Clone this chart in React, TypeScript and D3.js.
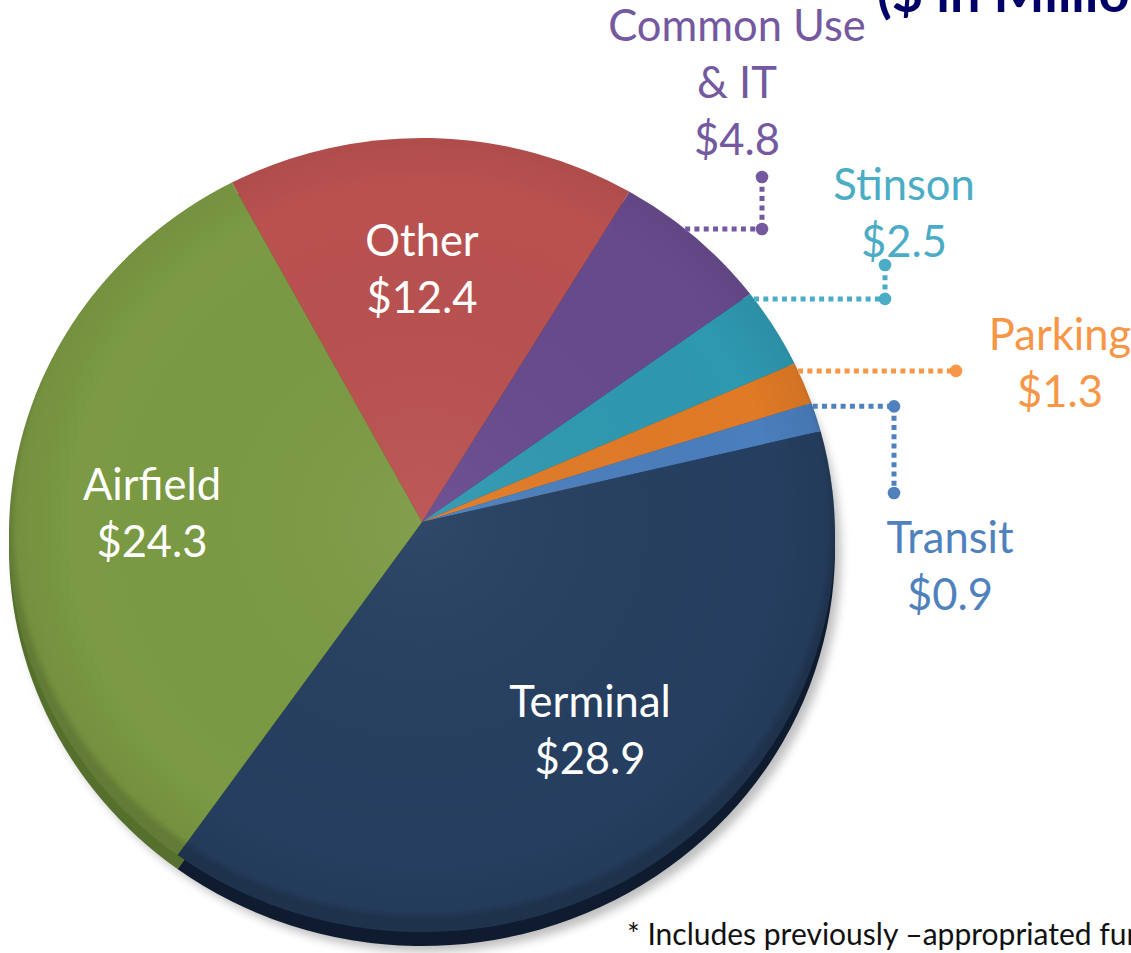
import React from "react";
import * as d3 from "d3";

// Capital budget by program ($ in millions)
const categories = ["Other", "Common Use & IT", "Stinson", "Parking", "Transit", "Terminal", "Airfield"];
const values = [12.4, 4.8, 2.5, 1.3, 0.9, 28.9, 24.3];
const labelLines = [["Other"], ["Common Use", "& IT"], ["Stinson"], ["Parking"], ["Transit"], ["Terminal"], ["Airfield"]];
const sliceColors = ["#B9514F", "#674A8C", "#2E98B0", "#E07A26", "#4A7EBC", "#263F60", "#7B9A43"];
const sideColors = ["#7a3230", "#3f2c58", "#1a6070", "#9a4f12", "#2d527e", "#0f1c30", "#55702c"];
const labelColors = ["#ffffff", "#7459A0", "#4BACC6", "#F79646", "#4F81BD", "#ffffff", "#ffffff"];

const W = 1131;
const H = 953;
const font = "Lato, 'Open Sans', sans-serif";

// pie geometry (perspective: apex sits above the ellipse centre)
const cx = 422;
const cy = 535;
const rx = 413;
const ry = 397;
const apex = { x: 422, y: 522 };
const depth = 14;
const startDeg = -28.3;

// label layout: x centre, first baseline, connector (frac along slice, elbow x, end y)
const labelLayout = [
  { x: 422, y: 256, inside: true },
  { x: 737, y: 41, inside: false, frac: 0.42, elbowX: 762, endY: 177 },
  { x: 904, y: 200, inside: false, frac: 0.075, elbowX: 885, endY: 265 },
  { x: 1060, y: 350, inside: false, frac: 0.19, elbowX: 956, endY: null },
  { x: 950, y: 553, inside: false, frac: 0.12, elbowX: 894, endY: 493 },
  { x: 590, y: 717, inside: true },
  { x: 152, y: 500, inside: true },
];
const lineStep = 57;

function rimPoint(a: number) {
  // ray from apex in direction a (d3 angle, clockwise from 12 o'clock), hit ellipse
  const u = (apex.x - cx) / rx;
  const v = (apex.y - cy) / ry;
  const s = Math.sin(a);
  const c = -Math.cos(a);
  const b = u * s + v * c;
  const t = -b + Math.sqrt(b * b - (u * u + v * v - 1));
  return { x: cx + rx * (u + t * s), y: cy + ry * (v + t * c) };
}

function slicePath(a0: number, a1: number) {
  const p0 = rimPoint(a0);
  const p1 = rimPoint(a1);
  const t0 = Math.atan2((p0.y - cy) / ry, (p0.x - cx) / rx);
  let t1 = Math.atan2((p1.y - cy) / ry, (p1.x - cx) / rx);
  if (t1 < t0) t1 += Math.PI * 2;
  const large = t1 - t0 > Math.PI ? 1 : 0;
  return `M${apex.x},${apex.y}L${p0.x},${p0.y}A${rx},${ry} 0 ${large} 1 ${p1.x},${p1.y}Z`;
}

export default function App() {
  const a0 = (startDeg * Math.PI) / 180;
  const arcs = d3.pie<number>().sort(null).startAngle(a0).endAngle(a0 + Math.PI * 2)(values);
  const money = d3.format("$.1f");

  return (
    <svg
      width={W}
      height={H}
      viewBox={`0 0 ${W} ${H}`}
      style={{ position: "absolute", left: 0, top: 0, background: "#fff" }}
    >
      <defs>
        <filter id="blur" x="-20%" y="-20%" width="140%" height="140%">
          <feGaussianBlur stdDeviation="5" />
        </filter>
        <radialGradient id="shade" cx={apex.x} cy={apex.y} r={rx} gradientUnits="userSpaceOnUse" gradientTransform={`translate(0 ${apex.y}) scale(1 ${ry / rx}) translate(0 ${-apex.y})`}>
          <stop offset="0" stopColor="#ffffff" stopOpacity={0.05} />
          <stop offset="0.85" stopColor="#000000" stopOpacity={0} />
          <stop offset="0.98" stopColor="#000000" stopOpacity={0.06} />
          <stop offset="1" stopColor="#000000" stopOpacity={0.2} />
        </radialGradient>
      </defs>

      {/* title, clipped at top */}
      <text x={877} y={12} fontFamily={font} fontWeight="bold" fontSize={54} fill="#000066">
        ($ in Millions)
      </text>

      {/* drop shadow */}
      <ellipse cx={cx + 6} cy={cy + depth + 6} rx={rx} ry={ry} fill="#8a8a8a" opacity={0.55} filter="url(#blur)" />

      {/* side walls */}
      <g transform={`translate(0,${depth})`}>
        {arcs.map((d, i) => (
          <path key={i} d={slicePath(d.startAngle, d.endAngle)} fill={sideColors[i]} />
        ))}
      </g>

      {/* top face */}
      {arcs.map((d, i) => (
        <path key={i} d={slicePath(d.startAngle, d.endAngle)} fill={sliceColors[i]} />
      ))}
      <ellipse cx={cx} cy={cy} rx={rx} ry={ry} fill="url(#shade)" />

      {/* connectors */}
      {arcs.map((d, i) => {
        const L = labelLayout[i];
        if (L.inside) return null;
        const a = d.startAngle + (L.frac as number) * (d.endAngle - d.startAngle);
        const p = rimPoint(a);
        const col = labelColors[i];
        return (
          <g key={i} stroke={col} fill={col}>
            <line x1={p.x} y1={p.y} x2={L.elbowX} y2={p.y} strokeWidth={5} strokeDasharray="5 4.3" />
            {L.endY != null && (
              <line x1={L.elbowX} y1={p.y} x2={L.elbowX} y2={L.endY} strokeWidth={5} strokeDasharray="5 4.3" />
            )}
            <circle cx={L.elbowX} cy={p.y} r={6.3} stroke="none" />
            {L.endY != null && <circle cx={L.elbowX} cy={L.endY} r={6.3} stroke="none" />}
          </g>
        );
      })}

      {/* labels */}
      {categories.map((c, i) => {
        const L = labelLayout[i];
        const lines = [...labelLines[i], money(values[i])];
        return (
          <text key={c} x={L.x} y={L.y} textAnchor="middle" fontFamily={font} fontSize={43.5} fill={labelColors[i]}>
            {lines.map((t, j) => (
              <tspan key={j} x={L.x} y={L.y + j * lineStep}>
                {t}
              </tspan>
            ))}
          </text>
        );
      })}

      <text x={627} y={945} fontFamily={font} fontSize={30} fill="#111">
        * Includes previously –appropriated funds
      </text>
    </svg>
  );
}
